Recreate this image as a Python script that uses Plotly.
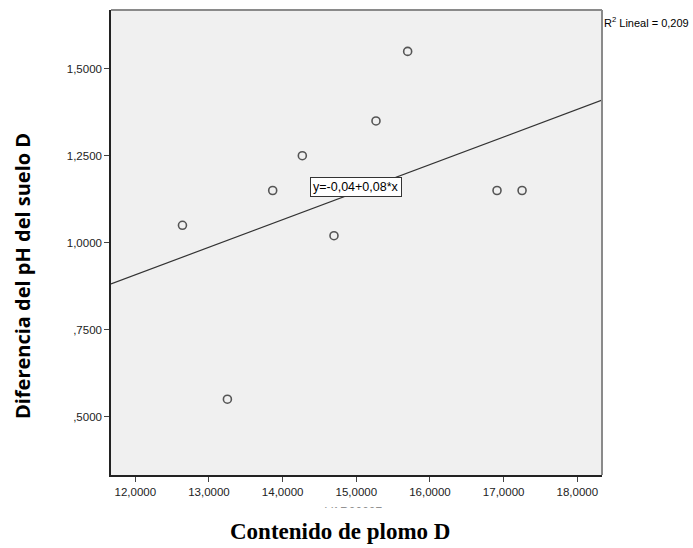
import plotly.graph_objects as go

# Lead content vs. soil pH difference (site D)
plomo = [12.64, 13.25, 13.865, 14.267, 14.697, 15.267, 15.697, 16.91, 17.25]
ph_dif = [1.05, 0.55, 1.15, 1.25, 1.02, 1.35, 1.55, 1.15, 1.15]

# Linear fit coefficients and goodness of fit
FIT_INTERCEPT = -0.044
FIT_SLOPE = 0.0793
R2 = 0.209

x_tickvals = [12, 13, 14, 15, 16, 17, 18]
x_ticktext = ["12,0000", "13,0000", "14,0000", "15,0000", "16,0000", "17,0000", "18,0000"]
y_tickvals = [0.5, 0.75, 1.0, 1.25, 1.5]
y_ticktext = [",5000", ",7500", "1,0000", "1,2500", "1,5000"]

X_RANGE = [11.67, 18.335]
Y_RANGE = [0.332, 1.669]


def es_num(v, d):
    return f"{v:.{d}f}".replace(".", ",")


fig = go.Figure()

# Regression line across the full x range
fig.add_trace(go.Scatter(
    x=X_RANGE,
    y=[FIT_INTERCEPT + FIT_SLOPE * v for v in X_RANGE],
    mode="lines",
    line=dict(color="#333333", width=1.2),
    hoverinfo="skip",
))

fig.add_trace(go.Scatter(
    x=plomo, y=ph_dif, mode="markers",
    marker=dict(symbol="circle-open", size=8, color="#555555", line=dict(width=1.6)),
))

sign = "-" if FIT_INTERCEPT < 0 else ""
eq_text = f"y={sign}{es_num(abs(FIT_INTERCEPT), 2)}+{es_num(FIT_SLOPE, 2)}*x"

font_axis = dict(family="Liberation Sans, Arial, sans-serif", size=11.5, color="#222222")

fig.update_layout(
    width=693, height=548,
    margin=dict(l=111, r=91, t=10, b=73),
    paper_bgcolor="white",
    plot_bgcolor="#F0F0F0",
    showlegend=False,
    xaxis=dict(
        range=X_RANGE, tickvals=x_tickvals, ticktext=x_ticktext,
        showgrid=False, zeroline=False,
        showline=True, linecolor="#222222", linewidth=1.5,
        ticks="outside", ticklen=5, tickcolor="#444444", tickwidth=1,
        tickfont=font_axis,
    ),
    yaxis=dict(
        range=Y_RANGE, tickvals=y_tickvals, ticktext=y_ticktext,
        showgrid=False, zeroline=False,
        showline=True, linecolor="#222222", linewidth=1.5,
        ticks="outside", ticklen=5, tickcolor="#444444", tickwidth=1,
        tickfont=font_axis,
    ),
    shapes=[
        # frame on top and right
        dict(type="line", xref="paper", yref="paper", x0=0, x1=1, y0=1, y1=1,
             line=dict(color="#8A8A8A", width=2)),
        dict(type="line", xref="paper", yref="paper", x0=1, x1=1, y0=0, y1=1,
             line=dict(color="#8A8A8A", width=2)),
    ],
    annotations=[
        dict(x=15.0, y=1.16, xref="x", yref="y", text=eq_text, showarrow=False,
             font=dict(family="Liberation Sans, Arial, sans-serif", size=12.5, color="black"),
             bgcolor="white", bordercolor="#333333", borderwidth=1, borderpad=2),
        dict(x=1.0, y=1.0, xref="paper", yref="paper", xanchor="left", yanchor="top",
             xshift=0, yshift=-3,
             text=f"R<sup>2</sup> Lineal = {es_num(R2, 3)}", showarrow=False,
             font=dict(family="Liberation Sans, Arial, sans-serif", size=11, color="black")),
        # y-axis title
        dict(x=-0.179, y=0.428, xref="paper", yref="paper", xanchor="center", yanchor="middle",
             text="<b>Diferencia del pH del suelo D</b>", textangle=-90, showarrow=False,
             font=dict(family="Open Sans, sans-serif", size=20, color="black")),
        # default variable name, mostly covered by the x title below
        dict(x=0.493, y=-0.0595, xref="paper", yref="paper", xanchor="center", yanchor="top",
             text="VAR00007", showarrow=False,
             font=dict(family="Liberation Sans, Arial, sans-serif", size=12, color="#222222")),
        dict(x=0.466, y=-0.0688, xref="paper", yref="paper", xanchor="center", yanchor="top",
             text="<b>Contenido de plomo D</b>", showarrow=False, bgcolor="white",
             borderpad=11,
             font=dict(family="Liberation Serif, Times New Roman, serif", size=23, color="black")),
    ],
)

fig.write_html("out.html")
